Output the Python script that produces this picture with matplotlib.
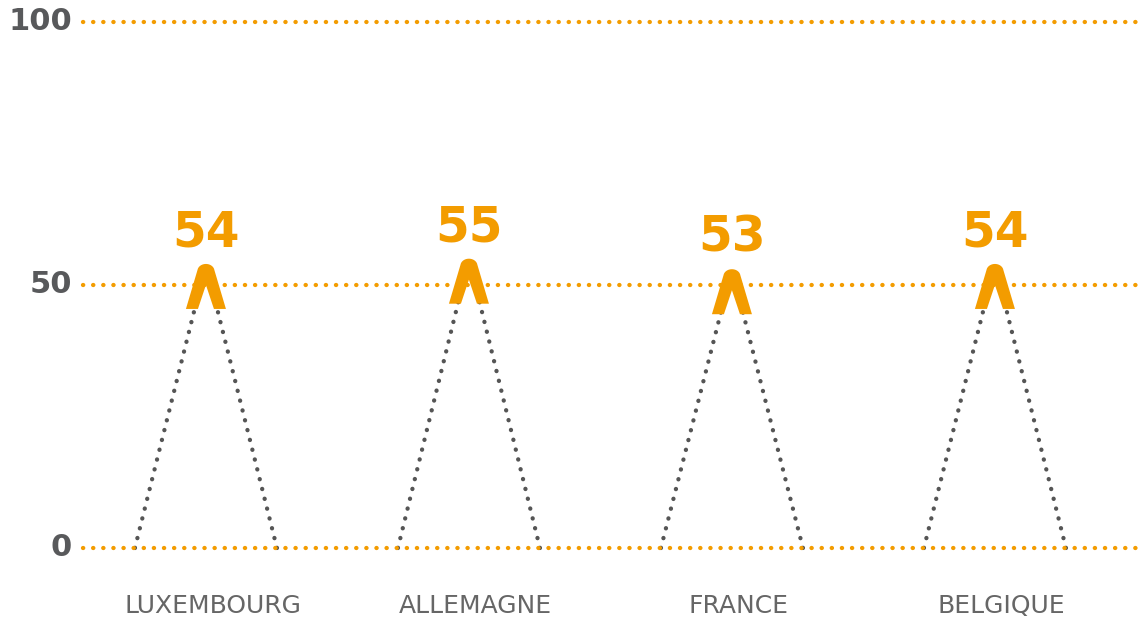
import matplotlib
matplotlib.use("Agg")
import matplotlib.pyplot as plt
import numpy as np

categories = ["LUXEMBOURG", "ALLEMAGNE", "FRANCE", "BELGIQUE"]
values = [54, 55, 53, 54]
y_ticks = [0, 50, 100]
y_tick_labels = ["0", "50", "100"]

ORANGE = "#F39C00"
GRAY_LINE = "#555555"
GRAY_TEXT = "#58595B"

W, H, DPI = 1143, 621, 100
fig = plt.figure(figsize=(W / DPI, H / DPI), dpi=DPI)
ax = fig.add_axes([0, 0, 1, 1])
X0, X1 = -0.783, 3.563
Y0, Y1 = -13.88, 104.18
ax.set_xlim(X0, X1)
ax.set_ylim(Y0, Y1)
ax.axis("off")

px_x = (X1 - X0) / W   # data units per pixel (x)
px_y = (Y1 - Y0) / H   # data units per pixel (y)

x = np.arange(len(categories))
half_base = 0.27
dot_lw = 3.1
dot_style = (0, (0.05, 2.3))

# gridlines
for t in y_ticks:
    ax.plot([-0.468, 3.6], [t, t], color=ORANGE, lw=dot_lw, linestyle=dot_style,
            dash_capstyle="round", zorder=2)


def caret(cx, top):
    # caret outline in pixel offsets (dx right, dy down from top)
    ang = np.linspace(0.15, np.pi - 0.15, 24)
    r = 8.5
    arc = [(r * np.cos(a), 7 - 7 * np.sin(a)) for a in ang]
    pts = [(20, 45), (8, 45), (0, 21), (-8, 45), (-20, 45)] + arc[::-1]
    xs = [cx + dx * px_x for dx, dy in pts]
    ys = [top - dy * px_y for dx, dy in pts]
    return xs, ys


for xi, v in zip(x, values):
    # gray dotted triangle (hidden under the caret near the apex)
    frac = 1 - 8.0 / v
    ax.plot([xi - half_base, xi - half_base * (1 - frac)], [0, v * frac],
            color=GRAY_LINE, lw=dot_lw, linestyle=dot_style,
            dash_capstyle="round", zorder=1)
    ax.plot([xi + half_base, xi + half_base * (1 - frac)], [0, v * frac],
            color=GRAY_LINE, lw=dot_lw, linestyle=dot_style,
            dash_capstyle="round", zorder=1)
    cxs, cys = caret(xi, v)
    ax.fill(cxs, cys, color=ORANGE, lw=0, zorder=3)
    ax.text(xi, v + 3.3, str(v), color=ORANGE, fontsize=35, fontweight="bold",
            family=["DejaVu Sans"], ha="center", va="baseline", zorder=4)

for t, lab in zip(y_ticks, y_tick_labels):
    ax.text(-0.51, t, lab, color=GRAY_TEXT, fontsize=22, fontweight="bold",
            family=["DejaVu Sans"], ha="right", va="center")

for xi, lab in zip(x, categories):
    ax.text(xi + 0.025, -11.0, lab, color="#666666", fontsize=18,
            family=["DejaVu Sans"], ha="center", va="center")

fig.savefig("out.png", dpi=DPI)
